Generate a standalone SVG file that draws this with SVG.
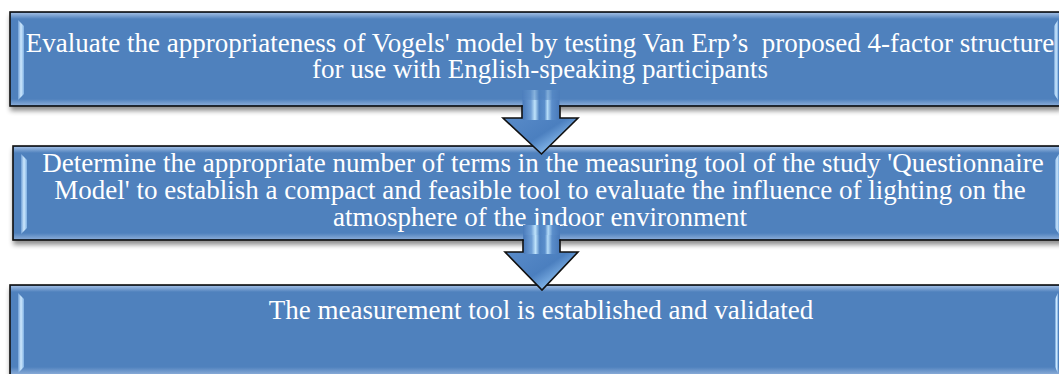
<svg xmlns="http://www.w3.org/2000/svg" width="1059" height="374" viewBox="0 0 1059 374">
<style>
.box{fill:#4F81BD;stroke:#111;stroke-width:1.6;}
.t{font-family:"Liberation Serif","Times New Roman",serif;font-size:27px;fill:#fff;text-anchor:middle;white-space:pre;}
.hl{fill:url(#hlg);}
.topb{fill:url(#topg);}
.botb{fill:url(#botg);}
.ashaft{fill:url(#shaftg);}
.ahead{fill:url(#headg);stroke:#111;stroke-width:1.6;stroke-linejoin:miter;}
</style>
<defs>
<filter id="sh" x="-5%" y="-20%" width="110%" height="150%">
<feGaussianBlur in="SourceAlpha" stdDeviation="2.5"/>
<feOffset dx="1" dy="4" result="b"/>
<feComponentTransfer><feFuncA type="linear" slope="0.45"/></feComponentTransfer>
<feMerge><feMergeNode/><feMergeNode in="SourceGraphic"/></feMerge>
</filter>
<linearGradient id="topg" x1="0" y1="0" x2="0" y2="1">
<stop offset="0" stop-color="#9dbbe2"/><stop offset="1" stop-color="#4F81BD"/>
</linearGradient>
<linearGradient id="botg" x1="0" y1="0" x2="0" y2="1">
<stop offset="0" stop-color="#4F81BD"/><stop offset="1" stop-color="#86a9d6"/>
</linearGradient>
<linearGradient id="hlg" x1="0" y1="0" x2="1" y2="0">
<stop offset="0" stop-color="#6f9fd6"/><stop offset="0.5" stop-color="#cde8fd"/><stop offset="1" stop-color="#7fb0e3"/>
</linearGradient>
<linearGradient id="shaftg" x1="0" y1="0" x2="1" y2="0">
<stop offset="0" stop-color="#4a7bbb"/><stop offset="0.22" stop-color="#6f9fd6"/><stop offset="0.33" stop-color="#bfe3fb"/><stop offset="0.45" stop-color="#4f83c2"/><stop offset="0.6" stop-color="#5a8ecb"/><stop offset="0.68" stop-color="#b5dcf8"/><stop offset="0.8" stop-color="#5a8dca"/><stop offset="1" stop-color="#4a7bbb"/>
</linearGradient>
<linearGradient id="headg" x1="0" y1="0" x2="1" y2="1">
<stop offset="0" stop-color="#5d8fcc"/><stop offset="0.55" stop-color="#4b7fbf"/><stop offset="0.75" stop-color="#7fb2e6"/><stop offset="1" stop-color="#4a7dbd"/>
</linearGradient>
<linearGradient id="fadeg" x1="0" y1="0" x2="0" y2="1">
<stop offset="0" stop-color="#fff" stop-opacity="0"/><stop offset="0.5" stop-color="#fff" stop-opacity="1"/>
</linearGradient>
<mask id="fm"><rect x="0" y="0" width="1059" height="374" fill="url(#fadeg)"/></mask>
</defs>

<g id="node1">
<rect class="box" x="10" y="12" width="1050" height="94" filter="url(#sh)"/>
<rect class="topb" x="11" y="13" width="1048" height="6"/>
<rect class="botb" x="11" y="99" width="1048" height="6"/>
<polygon class="hl" points="18,20 24,26 24,94 18,100"/>
<polygon class="hl" points="1058,20 1054,26 1054,94 1058,100"/>
<text class="t" x="540" y="52">Evaluate the appropriateness of Vogels' model by testing Van Erp’s  proposed 4-factor structure</text>
<text class="t" x="540" y="78">for use with English-speaking participants</text>
</g>

<g id="node2">
<rect class="box" x="13" y="146" width="1050" height="94" filter="url(#sh)"/>
<rect class="topb" x="14" y="147" width="1048" height="6"/>
<rect class="botb" x="14" y="233" width="1048" height="6"/>
<polygon class="hl" points="21,154 27,160 27,228 21,234"/>
<polygon class="hl" points="1059,154 1055,160 1055,228 1059,234"/>
<text class="t" x="543" y="172">Determine the appropriate number of terms in the measuring tool of the study 'Questionnaire</text>
<text class="t" x="540" y="199">Model' to establish a compact and feasible tool to evaluate the influence of lighting on the</text>
<text class="t" x="540" y="226">atmosphere of the indoor environment</text>
</g>

<g id="node3">
<rect class="box" x="10" y="285" width="1050" height="94" filter="url(#sh)"/>
<rect class="topb" x="11" y="286" width="1048" height="6"/>
<rect class="botb" x="11" y="367" width="1048" height="7"/>
<polygon class="hl" points="18,293 24,299 24,367 18,373"/>
<polygon class="hl" points="1058,293 1055,299 1055,367 1058,373"/>
<text class="t" x="541" y="319">The measurement tool is established and validated</text>
</g>

<g id="connectors">
<g id="arrow1">
<rect class="ashaft" x="522" y="90" width="38" height="20" mask="url(#fm)"/>
<polygon class="ahead" points="522,106 522,118 503,118 541.5,154 578,118 560,118 560,106"/>
<rect class="ashaft" x="523" y="100" width="36" height="20"/>
</g>
<g id="arrow2">
<rect class="ashaft" x="523" y="225" width="37" height="20" mask="url(#fm)"/>
<polygon class="ahead" points="523,240 523,252 505,252 542,290 578,252 560,252 560,240"/>
<rect class="ashaft" x="524" y="235" width="35" height="19"/>
</g>
</g>
</svg>
